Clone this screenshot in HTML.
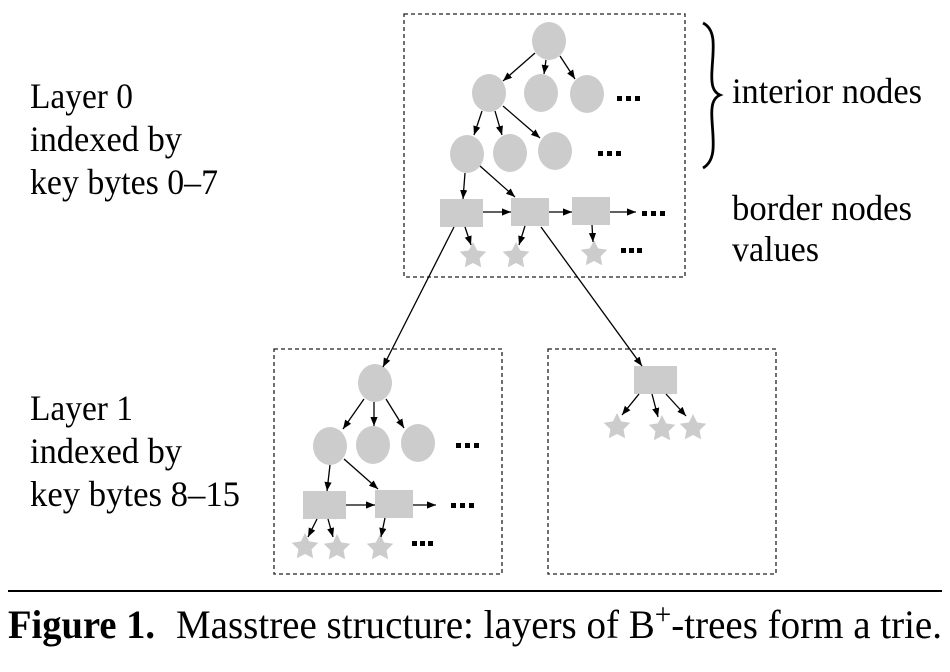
<!DOCTYPE html>
<html><head><meta charset="utf-8"><style>
html,body{margin:0;padding:0;background:#fff;}
svg{display:block;}
text{font-family:"Liberation Serif",serif;fill:#000;}
</style></head><body>
<svg width="950" height="672" viewBox="0 0 950 672" xmlns="http://www.w3.org/2000/svg">
<defs>
<marker id="a" viewBox="0 0 10 10" refX="10" refY="5" markerWidth="9" markerHeight="9" markerUnits="userSpaceOnUse" orient="auto">
<path d="M0,1 L10,5 L0,9 Z" fill="#000"/></marker>
<path id="st" d="M0,-14 L4.1,-5.6 L13.3,-4.3 L6.6,2.2 L8.2,11.3 L0,7 L-8.2,11.3 L-6.6,2.2 L-13.3,-4.3 L-4.1,-5.6 Z" fill="#ccc"/>
</defs>
<g fill="none" stroke="#222" stroke-width="1.3" stroke-dasharray="4,3">
<rect x="404" y="14" width="281" height="263"/>
<rect x="274" y="349" width="228" height="225"/>
<rect x="548" y="349" width="228" height="225"/>
</g>
<g fill="#ccc">
<ellipse cx="549" cy="41" rx="17" ry="19"/>
<ellipse cx="489" cy="93" rx="17" ry="19"/>
<ellipse cx="541" cy="93" rx="17" ry="19"/>
<ellipse cx="587" cy="94" rx="17" ry="19"/>
<ellipse cx="467" cy="154" rx="17" ry="19"/>
<ellipse cx="510" cy="153" rx="17" ry="19"/>
<ellipse cx="555" cy="151" rx="17" ry="19"/>
<rect x="440" y="199" width="43" height="28"/>
<rect x="511" y="198" width="38" height="28"/>
<rect x="572" y="197" width="38" height="28"/>
<ellipse cx="375" cy="383" rx="17" ry="19"/>
<ellipse cx="330" cy="446" rx="17" ry="19"/>
<ellipse cx="373" cy="445" rx="17" ry="19"/>
<ellipse cx="418" cy="443" rx="17" ry="19"/>
<rect x="303" y="491" width="43" height="28"/>
<rect x="375" y="490" width="38" height="28"/>
<rect x="634" y="366" width="43" height="28"/>
</g>
<use href="#st" x="473" y="256"/><use href="#st" x="516" y="256"/><use href="#st" x="594" y="254"/>
<use href="#st" x="305" y="547"/><use href="#st" x="337" y="548"/><use href="#st" x="380" y="548"/>
<use href="#st" x="617" y="427"/><use href="#st" x="662" y="429"/><use href="#st" x="693" y="428"/>
<g stroke="#000" stroke-width="1.3" marker-end="url(#a)">
<line x1="535" y1="53" x2="503" y2="81"/>
<line x1="546" y1="60" x2="544" y2="74"/>
<line x1="560" y1="56" x2="575" y2="79"/>
<line x1="482" y1="111" x2="474" y2="135"/>
<line x1="495" y1="111" x2="502" y2="135"/>
<line x1="503" y1="106" x2="540" y2="138"/>
<line x1="465" y1="173" x2="463" y2="199"/>
<line x1="480" y1="166" x2="515" y2="197"/>
<line x1="483" y1="212" x2="511" y2="212"/>
<line x1="549" y1="212" x2="572" y2="212"/>
<line x1="610" y1="212" x2="636" y2="212"/>
<line x1="465" y1="227" x2="471" y2="245"/>
<line x1="525" y1="226" x2="519" y2="245"/>
<line x1="592" y1="225" x2="593" y2="242"/>
<line x1="454" y1="227" x2="383" y2="367"/>
<line x1="541" y1="227" x2="642" y2="366"/>
<line x1="364" y1="399" x2="343" y2="429"/>
<line x1="374" y1="402" x2="374" y2="426"/>
<line x1="386" y1="399" x2="404" y2="428"/>
<line x1="330" y1="465" x2="327" y2="491"/>
<line x1="344" y1="459" x2="378" y2="489"/>
<line x1="346" y1="505" x2="375" y2="505"/>
<line x1="413" y1="505" x2="436" y2="505"/>
<line x1="317" y1="519" x2="308" y2="537"/>
<line x1="328" y1="519" x2="333" y2="537"/>
<line x1="385" y1="518" x2="381" y2="537"/>
<line x1="639" y1="394" x2="622" y2="415"/>
<line x1="652" y1="394" x2="658" y2="417"/>
<line x1="666" y1="394" x2="686" y2="416"/>
</g>
<g fill="#000">
<rect x="617" y="96" width="5" height="5"/><rect x="626" y="96" width="5" height="5"/><rect x="635" y="96" width="5" height="5"/>
<rect x="598" y="151" width="5" height="5"/><rect x="607" y="151" width="5" height="5"/><rect x="616" y="151" width="5" height="5"/>
<rect x="642" y="211" width="5" height="5"/><rect x="651" y="211" width="5" height="5"/><rect x="660" y="211" width="5" height="5"/>
<rect x="621" y="248" width="5" height="5"/><rect x="629" y="248" width="5" height="5"/><rect x="637" y="248" width="5" height="5"/>
<rect x="456" y="443" width="5" height="5"/><rect x="465" y="443" width="5" height="5"/><rect x="474" y="443" width="5" height="5"/>
<rect x="451" y="503" width="5" height="5"/><rect x="460" y="503" width="5" height="5"/><rect x="469" y="503" width="5" height="5"/>
<rect x="412" y="541" width="5" height="5"/><rect x="420" y="541" width="5" height="5"/><rect x="428" y="541" width="5" height="5"/>
</g>
<path d="M703,23 C717,30 713,50 712,70 C711,85 713,92 720,95 C713,98 711,105 712,120 C713,140 717,160 703,168" fill="none" stroke="#000" stroke-width="2.8"/>
<g font-size="36">
<text x="30" y="108" textLength="103" lengthAdjust="spacingAndGlyphs">Layer 0</text>
<text x="30" y="151" textLength="152" lengthAdjust="spacingAndGlyphs">indexed by</text>
<text x="30" y="194" textLength="188" lengthAdjust="spacingAndGlyphs">key bytes 0–7</text>
<text x="30" y="420" textLength="103" lengthAdjust="spacingAndGlyphs">Layer 1</text>
<text x="30" y="463" textLength="152" lengthAdjust="spacingAndGlyphs">indexed by</text>
<text x="30" y="506" textLength="210" lengthAdjust="spacingAndGlyphs">key bytes 8–15</text>
<text x="732" y="103" textLength="190" lengthAdjust="spacingAndGlyphs">interior nodes</text>
<text x="732" y="220" textLength="180" lengthAdjust="spacingAndGlyphs">border nodes</text>
<text x="732" y="261" textLength="87" lengthAdjust="spacingAndGlyphs">values</text>
</g>
<line x1="8" y1="591" x2="942" y2="591" stroke="#000" stroke-width="2"/>
<text x="8" y="638" font-size="40" font-weight="bold" textLength="147" lengthAdjust="spacingAndGlyphs">Figure 1.</text>
<text x="176" y="638" font-size="40" textLength="766" lengthAdjust="spacingAndGlyphs">Masstree structure: layers of B<tspan dy="-14" font-size="30">+</tspan><tspan dy="14">-trees form a trie.</tspan></text>
</svg>
</body></html>
